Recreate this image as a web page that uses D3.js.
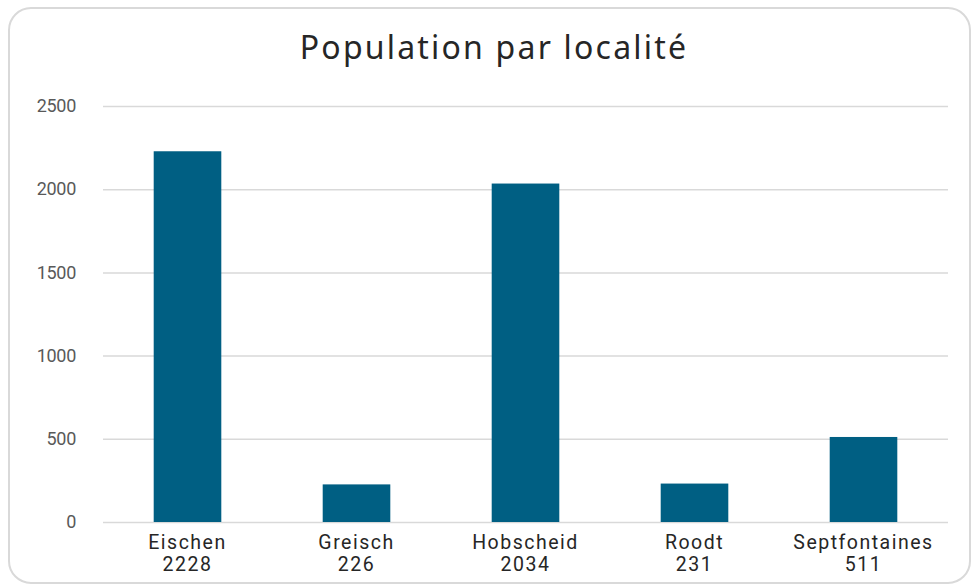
<!DOCTYPE html>
<html>
<head>
<meta charset="utf-8">
<script src="https://cdn.jsdelivr.net/npm/d3@7"></script>
<style>
  html, body { margin: 0; padding: 0; background: #fff; }
  svg { display: block; }
</style>
</head>
<body>
<svg id="chart" width="972" height="585"></svg>
<script>
const localites = ['Eischen', 'Greisch', 'Hobscheid', 'Roodt', 'Septfontaines'];
const population = [2228, 226, 2034, 231, 511];
const yTicks = [0, 500, 1000, 1500, 2000, 2500];
const titre = 'Population par localité';

const width = 972, height = 585;
const margin = {top: 106, right: 24, bottom: 63, left: 103};

const svg = d3.select('#chart');

// card background
svg.append('rect')
    .attr('x', 9).attr('y', 8)
    .attr('width', 961).attr('height', 575)
    .attr('rx', 22).attr('ry', 22)
    .attr('fill', '#fff')
    .attr('stroke', '#d9d9d9')
    .attr('stroke-width', 2);

const xScale = d3.scaleBand()
    .domain(localites)
    .range([margin.left, width - margin.right])
    .paddingInner(0.6)
    .paddingOuter(0.3);

const yScale = d3.scaleLinear()
    .domain([0, 2500])
    .range([height - margin.bottom, margin.top]);

// gridlines + y labels
const yAxis = d3.axisLeft(yScale)
    .tickValues(yTicks)
    .tickFormat(d3.format('d'))
    .tickSize(-(width - margin.right - margin.left))
    .tickPadding(27);

svg.append('g')
    .attr('transform', `translate(${margin.left},0)`)
    .call(yAxis)
    .call(g => g.select('.domain').remove())
    .call(g => g.selectAll('.tick line').attr('stroke', '#d9d9d9').attr('stroke-width', 1.5))
    .call(g => g.selectAll('.tick text')
        .attr('fill', '#595959')
        .style('font-family', 'Roboto, sans-serif')
        .style('font-size', '18px')
        .style('letter-spacing', '-0.3px'));

// bars
svg.append('g').selectAll('rect')
    .data(localites)
    .join('rect')
      .attr('x', d => xScale(d))
      .attr('y', (d, i) => yScale(population[i]))
      .attr('width', xScale.bandwidth())
      .attr('height', (d, i) => yScale(0) - yScale(population[i]))
      .attr('fill', '#005f83');

// x labels: name + value on two lines
const xLabels = svg.append('g')
    .style('font-family', 'Roboto, sans-serif')
    .style('font-size', '19.5px')
    .style('letter-spacing', '1.5px')
    .attr('fill', '#262626')
    .attr('text-anchor', 'middle');

xLabels.selectAll('text')
  .data(localites)
  .join('text')
    .attr('x', d => xScale(d) + xScale.bandwidth() / 2)
    .attr('y', 549)
    .call(t => t.append('tspan').text(d => d))
    .call(t => t.append('tspan')
        .attr('x', d => xScale(d) + xScale.bandwidth() / 2)
        .attr('dy', 22)
        .text((d, i) => population[i]));

// title
svg.append('text')
    .attr('x', 494)
    .attr('y', 59)
    .attr('text-anchor', 'middle')
    .attr('fill', '#262626')
    .style('font-family', '"Noto Sans", sans-serif')
    .style('font-size', '32px')
    .style('letter-spacing', '2.2px')
    .text(titre);
</script>
</body>
</html>
